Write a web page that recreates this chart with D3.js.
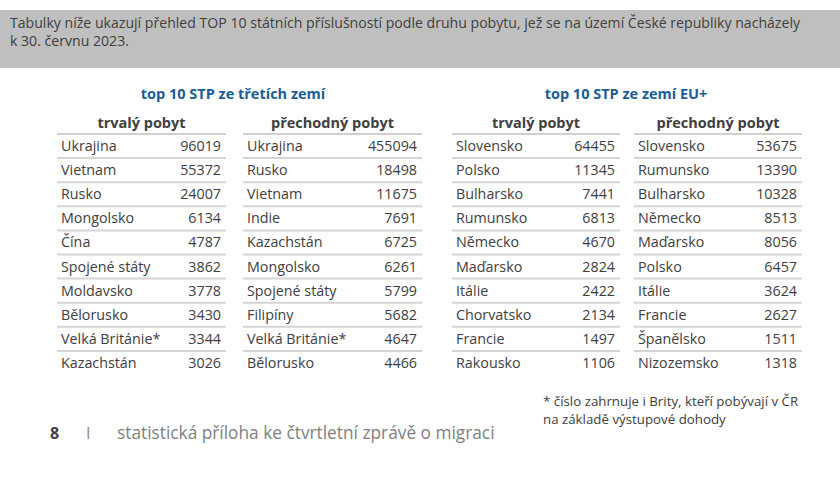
<!DOCTYPE html><html><head><meta charset="utf-8"><script src="https://cdn.jsdelivr.net/npm/d3@7"></script>
<style>body{margin:0;background:#fff}text{font-family:"Open Sans",sans-serif}</style></head><body><svg id="c" width="840" height="480"></svg>
<script>
const t1Names=["Ukrajina","Vietnam","Rusko","Mongolsko","Čína","Spojené státy","Moldavsko","Bělorusko","Velká Británie*","Kazachstán"];
const t1Vals=[96019,55372,24007,6134,4787,3862,3778,3430,3344,3026];
const t2Names=["Ukrajina","Rusko","Vietnam","Indie","Kazachstán","Mongolsko","Spojené státy","Filipíny","Velká Británie*","Bělorusko"];
const t2Vals=[455094,18498,11675,7691,6725,6261,5799,5682,4647,4466];
const t3Names=["Slovensko","Polsko","Bulharsko","Rumunsko","Německo","Maďarsko","Itálie","Chorvatsko","Francie","Rakousko"];
const t3Vals=[64455,11345,7441,6813,4670,2824,2422,2134,1497,1106];
const t4Names=["Slovensko","Rumunsko","Bulharsko","Německo","Maďarsko","Polsko","Itálie","Francie","Španělsko","Nizozemsko"];
const t4Vals=[53675,13390,10328,8513,8056,6457,3624,2627,1511,1318];
const headers=["trvalý pobyt","přechodný pobyt","trvalý pobyt","přechodný pobyt"];
const sections=["top 10 STP ze třetích zemí","top 10 STP ze zemí EU+"];

const svg=d3.select("#c");
svg.append("rect").attr("x",0).attr("y",10).attr("width",840).attr("height",58).attr("fill","#bfbfbf");
const intro=svg.append("text").attr("fill","#404040").attr("font-size",14.1);
intro.append("tspan").attr("x",10).attr("y",28).text("Tabulky níže ukazují přehled TOP 10 státních příslušností podle druhu pobytu, jež se na  území České republiky nacházely");
intro.append("tspan").attr("x",10).attr("y",46).text("k 30. červnu 2023.");

svg.selectAll(".sec").data(sections).join("text").attr("x",(d,i)=>[233,626][i]).attr("y",99)
 .attr("text-anchor","middle").attr("font-weight","bold").attr("font-size",14.5).attr("fill","#1a5c96").text(d=>d);

const tables=[[t1Names,t1Vals,57,226],[t2Names,t2Vals,243,422],[t3Names,t3Vals,452,620],[t4Names,t4Vals,634,802]];
const y=d3.scaleBand().domain(d3.range(10)).range([134,375]);
tables.forEach(([names,vals,x0,x1],ti)=>{
  const g=svg.append("g");
  g.append("text").attr("x",(x0+x1)/2).attr("y",128).attr("text-anchor","middle").attr("font-weight","bold").attr("font-size",14.5).attr("fill","#404040").text(headers[ti]);
  g.append("line").attr("x1",x0).attr("x2",x1).attr("y1",134).attr("y2",134).attr("stroke","#cfcfcf").attr("stroke-width",2);
  d3.range(10).forEach(i=>{
    const yy=y(i);
    g.append("text").attr("x",x0+4).attr("y",yy+y.bandwidth()/2+5).attr("font-size",14.3).attr("fill","#404040").text(names[i]);
    g.append("text").attr("x",x1-5).attr("y",yy+y.bandwidth()/2+5).attr("text-anchor","end").attr("font-size",14.3).attr("fill","#404040").text(vals[i]);
    if(i<9) g.append("line").attr("x1",x0).attr("x2",x1).attr("y1",yy+y.bandwidth()).attr("y2",yy+y.bandwidth()).attr("stroke","#d4d4d4").attr("stroke-width",2);
  });
});
const fn=svg.append("text").attr("fill","#404040").attr("font-size",13.3);
fn.append("tspan").attr("x",543).attr("y",406).text("* číslo zahrnuje i Brity, kteří pobývají v ČR");
fn.append("tspan").attr("x",543).attr("y",424).text("na základě výstupové dohody");
svg.append("text").attr("x",50).attr("y",439).attr("font-size",16).attr("font-weight","bold").attr("fill","#404040").text("8");
svg.append("text").attr("x",86).attr("y",439).attr("font-size",16).attr("fill","#888").text("I");
svg.append("text").attr("x",117).attr("y",439).attr("font-size",17.3).attr("fill","#7f7f7f").text("statistická příloha ke čtvrtletní zprávě o migraci");
</script></body></html>
